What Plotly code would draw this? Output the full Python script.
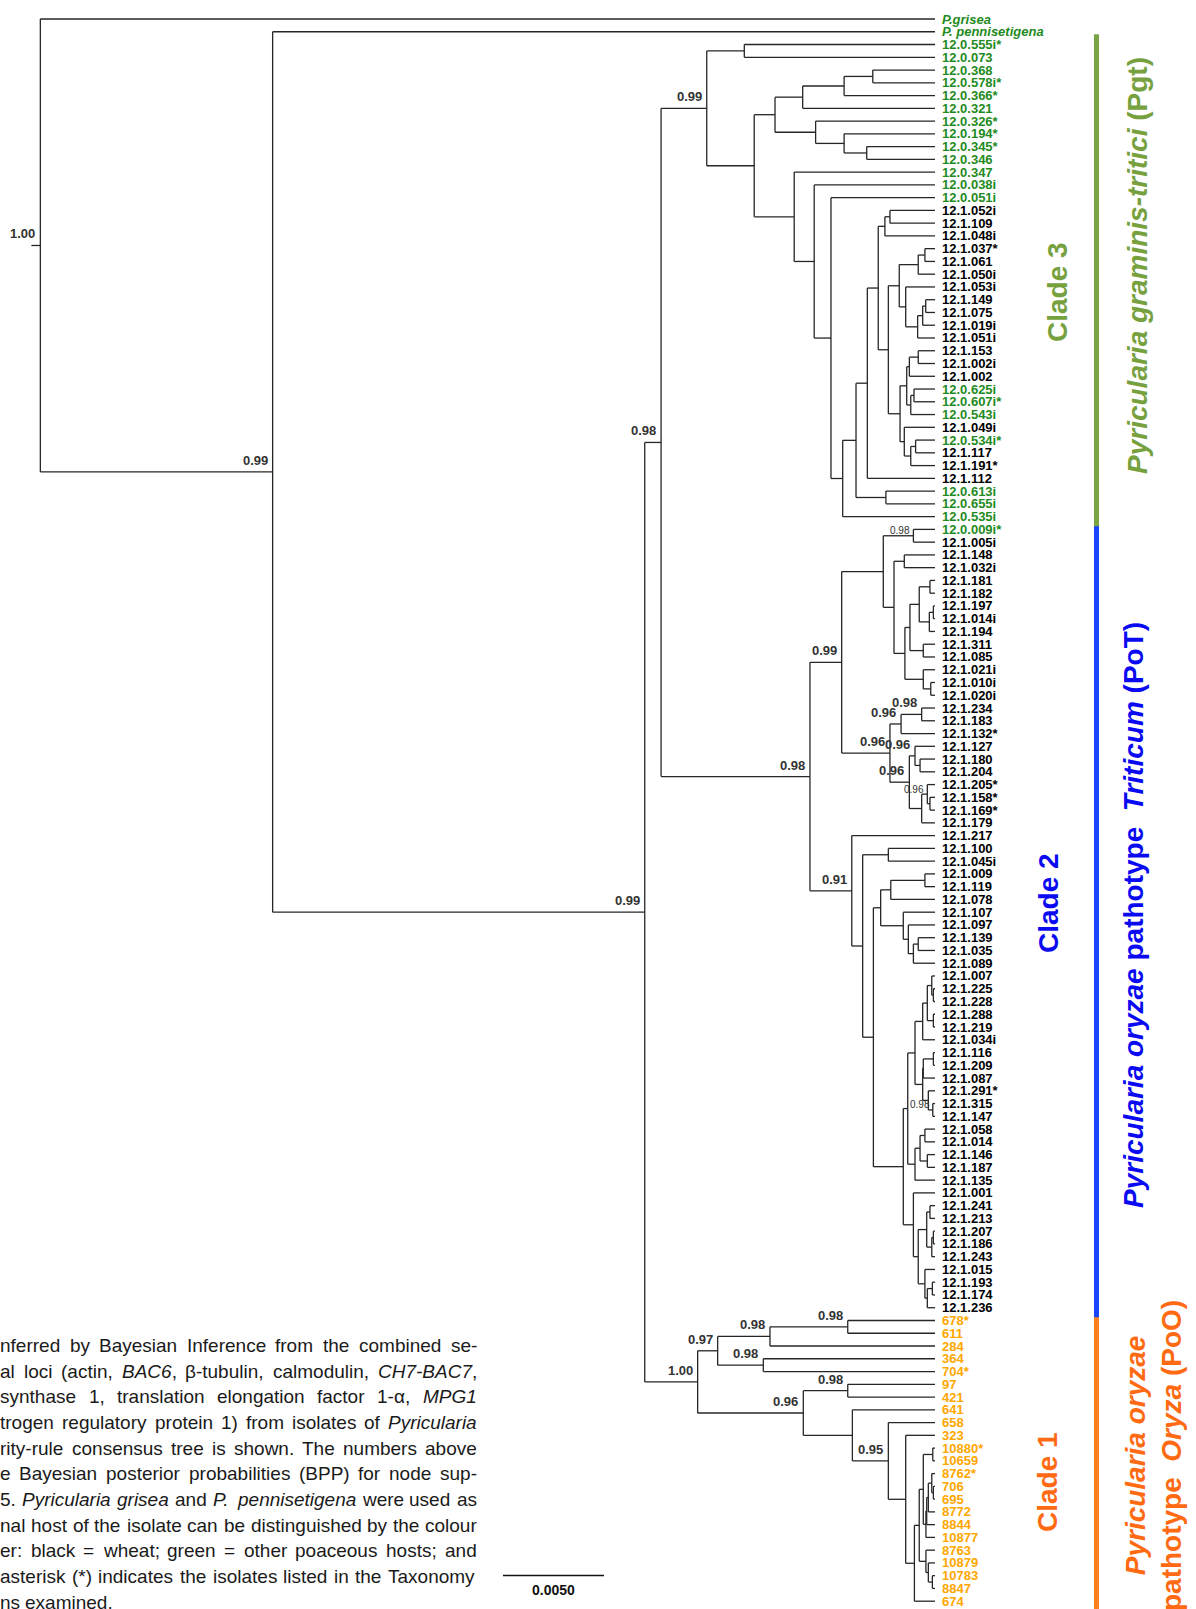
import re
import plotly.graph_objects as go

# ---------------------------------------------------------------------------
# Bayesian consensus tree. Internal nodes carry their height (substitutions
# per site, measured back from the tips) and, in brackets, the posterior
# probability where it is printed on the tree.
# ---------------------------------------------------------------------------
PGT_A = ("((((12.0.368,12.0.578i*)0.00308,12.0.366*)0.00450,12.0.321)0.00655,"
         "(12.0.326*,(12.0.194*,(12.0.345*,12.0.346)0.00338)0.00450)0.00591)0.00792")
PGT_B1 = "((12.1.052i,12.1.109)0.00223,12.1.048i)0.00248"
PGT_B2 = ("(((12.1.037*,12.1.061)0.00050,12.1.050i)0.00083,"
          "(12.1.053i,(((12.1.149,12.1.075)0.00046,12.1.019i)0.00061,12.1.051i)0.00086)0.00145)0.00177")
PGT_B3 = ("((((12.1.153,12.1.002i)0.00083,12.1.002)0.00127,((12.0.625i,12.0.607i*)0.00104,12.0.543i)0.00120)0.00140,"
          "(12.1.049i,((12.0.534i*,12.1.117)0.00096,12.1.191*)0.00120)0.00152)0.00173")
CLADE3 = ("((12.0.555i*,12.0.073)0.00944,(" + PGT_A + ",(12.0.347,(12.0.038i,(12.0.051i,(((("
          + PGT_B1 + ",(" + PGT_B2 + "," + PGT_B3 + ")0.00231)0.00281,12.1.112)0.00335,"
          "(12.0.613i,12.0.655i)0.00243)0.00391,12.0.535i)0.00457)0.00515)0.00598)0.00697)0.00895)0.01130[0.99]")

POT_A = ("((12.0.009i*,12.1.005i)0.00107[0.98],((12.1.148,12.1.032i)0.00152,"
         "((((12.1.181,12.1.182)0.00025,((12.1.197,12.1.014i)0.00008,12.1.194)0.00028)0.00078,"
         "(12.1.311,12.1.085)0.00058)0.00124,(12.1.021i,(12.1.010i,12.1.020i)0.00021)0.00058)0.00149)0.00203)0.00256")
POT_B = ("(((12.1.234,12.1.183)0.00066[0.98],12.1.132*)0.00168[0.96],"
         "((12.1.127,(12.1.180,12.1.204)0.00074)0.00099[0.96],"
         "((12.1.205*,(12.1.158*,12.1.169*)0.00025)0.00038[0.96],12.1.179)0.00066)0.00127[0.96])0.00223[0.96]")
POT_C = ("(((12.1.009,12.1.119)0.00050,12.1.078)0.00219,"
         "(12.1.107,(12.1.097,((12.1.139,12.1.035)0.00083,12.1.089)0.00107)0.00132)0.00157)0.00269")
POT_D = ("(((((12.1.007,(12.1.225,12.1.228)0.00008)0.00016,(12.1.288,12.1.219)0.00008)0.00038,12.1.034i)0.00061,"
         "(((12.1.116,12.1.209)0.00008,12.1.087)0.00058,(12.1.291*,(12.1.315,12.1.147)0.00011[0.98])0.00033)0.00061)0.00099,"
         "(((12.1.058,12.1.014)0.00050,(12.1.146,12.1.187)0.00038)0.00074,12.1.135)0.00099)0.00135")
POT_E = ("(12.1.001,(((12.1.241,12.1.213)0.00025,((12.1.207,12.1.186)0.00008,12.1.243)0.00016)0.00041,"
         "(12.1.015,((12.1.193,12.1.174)0.00013,12.1.236)0.00038)0.00050)0.00083)0.00107")
CLADE2 = ("((" + POT_A + "," + POT_B + ")0.00462[0.99],(12.1.217,((12.1.100,12.1.045i)0.00231,("
          + POT_C + ",(" + POT_D + "," + POT_E + ")0.00157)0.00305)0.00358)0.00412[0.91])0.00619[0.98]")

CLADE1 = ("((((678*,611)0.00432[0.98],284)0.00817[0.98],(364,704*)0.00850[0.98])0.01076[0.97],"
          "((97,421)0.00432[0.98],(641,(658,(323,((((10880*,10659)0.00011,"
          "((((8762*,(706,695)0.00008)0.00016,8772)0.00033,8844)0.00041,10877)0.00045)0.00058,"
          "(8763,(10879,(10783,8847)0.00013)0.00033)0.00045)0.00078,674)0.00102)0.00145)0.00231[0.95])0.00409)0.00652[0.96])0.01175[1.00]")

TREE = ("(P.grisea,(P. pennisetigena,((" + CLADE3 + "," + CLADE2 + ")0.01356[0.98]," + CLADE1
        + ")0.01437[0.99])0.03279[0.99])0.04429[1.00]")

SCALE_BAR = 0.005

# clade name, first leaf, last leaf, lineage
CLADES = [
    ("Clade 3", "12.0.555i*", "12.0.535i",
     "<i>Pyricularia graminis-tritici</i> (Pgt)"),
    ("Clade 2", "12.0.009i*", "12.1.236",
     "<i>Pyricularia oryzae</i> pathotype  <i>Triticum</i> (PoT)"),
    ("Clade 1", "678*", "674",
     "<i>Pyricularia oryzae</i><br>pathotype  <i>Oryza</i> (PoO)"),
]

CAPTION_LINES = [
    "nferred by Bayesian Inference from the combined se-",
    "al loci (actin, <i>BAC6</i>, β-tubulin, calmodulin, <i>CH7-BAC7</i>,",
    "synthase 1, translation elongation factor 1-α, <i>MPG1</i>",
    "trogen regulatory protein 1) from isolates of <i>Pyricularia</i>",
    "rity-rule consensus tree is shown. The numbers above",
    "e Bayesian posterior probabilities (BPP) for node sup-",
    "5. <i>Pyricularia grisea</i> and <i>P. pennisetigena</i> were used as",
    "nal host of the isolate can be distinguished by the colour",
    "er: black = wheat; green = other poaceous hosts; and",
    "asterisk (*) indicates the isolates listed in the Taxonomy",
    "ns examined.",
]

# ---------------------------------------------------------------------------
# page geometry and styling
# ---------------------------------------------------------------------------
W, H = 1196, 1609
TIP_PX = 935.0            # where every tip ends
PX_PER_UNIT = 20200.0     # horizontal scale
LEAF0_PX, LEAFN_PX = 19.0, 1601.2
FONT = "Liberation Sans, Arial, sans-serif"
LINE_COLOUR = "#262626"
SUPPORT_COLOUR = "#333333"
OTHER_HOST = "#1f8b22"
RICE_HOST = "#ffa700"
WHEAT_HOST = "#000000"
CLADE_STYLE = {
    "Clade 3": dict(text="#76a13e", bar="#7aa344", label_xy=(1057, 292), line_xy=(1137, 266)),
    "Clade 2": dict(text="#0a0af2", bar="#1a45ff", label_xy=(1049, 903), line_xy=(1133, 915)),
    "Clade 1": dict(text="#ff6a12", bar="#ff7f1e", label_xy=(1047, 1482), line_xy=(1153, 1456)),
}
BAR_X_PX = 1096.5
SMALL_SUPPORT = {("12.0.009i*", "12.1.005i"), ("12.1.205*", "12.1.169*"), ("12.1.315", "12.1.147")}

CAPTION_SIZE = 19
CAPTION_RIGHT_PX = 477
CAPTION_TOP_PX, CAPTION_PITCH_PX = 1345.7, 25.63

# advance widths of the caption font (1/1000 em), used to justify the lines
_ADV = {ch: 556 for ch in "0123456789"}
_ADV.update({" ": 278, "!": 278, "(": 333, ")": 333, "*": 389, ",": 278, "-": 333, ".": 278,
             "/": 278, ":": 278, ";": 278, "=": 584, "β": 575, "α": 578})
_ADV.update(dict(zip("ABCDEFGHIJKLMNOPQRSTUVWXYZ",
                     [667, 667, 722, 722, 667, 611, 778, 722, 278, 500, 667, 556, 833, 722, 778, 667,
                      778, 722, 667, 611, 722, 667, 944, 667, 667, 611])))
_ADV.update(dict(zip("abcdefghijklmnopqrstuvwxyz",
                     [556, 556, 500, 556, 556, 278, 556, 556, 222, 222, 500, 222, 833, 556, 556, 556,
                      556, 333, 500, 278, 556, 500, 722, 500, 500, 500])))


def text_px(s, size):
    return sum(_ADV.get(ch, 556) for ch in s) * size / 1000.0


def caption_words(line):
    """Split a line into words, each a list of (text, italic) runs."""
    words, italic = [[]], False
    for part in re.split(r"(<i>|</i>)", line):
        if part == "<i>":
            italic = True
        elif part == "</i>":
            italic = False
        elif part:
            for k, piece in enumerate(part.split(" ")):
                if k > 0:
                    words.append([])
                if piece:
                    words[-1].append((piece, italic))
    return [w for w in words if w]


def parse_newick(text):
    pos = 0

    def node():
        nonlocal pos
        if text[pos] == "(":
            pos += 1
            kids = [node()]
            while text[pos] == ",":
                pos += 1
                kids.append(node())
            assert text[pos] == ")"
            pos += 1
            m = re.match(r"([0-9.]+)(?:\[([0-9.]+)\])?", text[pos:])
            pos += m.end()
            return {"children": kids, "height": float(m.group(1)), "support": m.group(2)}
        m = re.match(r"[^,()]+", text[pos:])
        pos += m.end()
        return {"name": m.group(0), "height": 0.0}

    tree = node()
    assert pos == len(text), "unbalanced tree string"
    return tree


root = parse_newick(TREE)
leaves = []


def place(node):
    node["x"] = -node["height"]
    if "children" not in node:
        node["y"] = len(leaves)
        node["first"] = node["last"] = node["name"]
        leaves.append(node)
        return
    for c in node["children"]:
        place(c)
    kids = node["children"]
    node["y"] = (kids[0]["y"] + kids[-1]["y"]) / 2
    node["first"], node["last"] = kids[0]["first"], kids[-1]["last"]


place(root)
leaf_index = {lf["name"]: lf["y"] for lf in leaves}

xs, ys, internal = [], [], []


def collect(node):
    if "children" not in node:
        return
    internal.append(node)
    kids = node["children"]
    xs.extend([node["x"], node["x"], None])
    ys.extend([kids[0]["y"], kids[-1]["y"], None])
    for c in kids:
        xs.extend([node["x"], c["x"], None])
        ys.extend([c["y"], c["y"], None])
        collect(c)


collect(root)
# short stub under the root
xs.extend([root["x"] - 9 / PX_PER_UNIT, root["x"], None])
ys.extend([root["y"], root["y"], None])

pitch = (LEAFN_PX - LEAF0_PX) / (len(leaves) - 1)
x_range = [-TIP_PX / PX_PER_UNIT, (W - TIP_PX) / PX_PER_UNIT]
y_range = [(H - LEAF0_PX) / pitch, -LEAF0_PX / pitch]

fig = go.Figure()
fig.add_trace(go.Scatter(x=xs, y=ys, mode="lines", line=dict(color=LINE_COLOUR, width=1.3),
                         hoverinfo="skip", showlegend=False))

ann = []


def host_colour(name):
    code = name.rstrip("*")
    if name.startswith("P"):
        return OTHER_HOST
    if "." not in code:
        return RICE_HOST
    if code.startswith("12.1"):
        return WHEAT_HOST
    return OTHER_HOST


for lf in leaves:
    label = lf["name"]
    if label.startswith("P"):
        label = "<i>" + label + "</i>"
    ann.append(dict(x=lf["x"], y=lf["y"], xref="x", yref="y", text=label, showarrow=False,
                    xanchor="left", yanchor="middle", xshift=5,
                    font=dict(family=FONT, size=13, weight="bold", color=host_colour(lf["name"]))))

for nd in internal:
    if not nd["support"]:
        continue
    if (nd["first"], nd["last"]) in SMALL_SUPPORT:
        ann.append(dict(x=nd["x"], y=nd["y"], xref="x", yref="y", text=nd["support"], showarrow=False,
                        xanchor="right", yanchor="middle", xshift=-1, yshift=5,
                        font=dict(family=FONT, size=10, color=SUPPORT_COLOUR)))
    else:
        ann.append(dict(x=nd["x"], y=nd["y"], xref="x", yref="y", text=nd["support"], showarrow=False,
                        xanchor="right", yanchor="bottom", xshift=-3, yshift=2,
                        font=dict(family=FONT, size=13, weight="bold", color=SUPPORT_COLOUR)))

shapes = []
# coloured clade bars; drawn bottom-up so each upper bar overlaps the join below it
for name, first, last, lineage in reversed(CLADES):
    st = CLADE_STYLE[name]
    shapes.append(dict(type="line", xref="paper", yref="y",
                       x0=BAR_X_PX / W, x1=BAR_X_PX / W,
                       y0=leaf_index[first] - 0.8, y1=leaf_index[last] + 0.75,
                       line=dict(color=st["bar"], width=5)))
for name, first, last, lineage in CLADES:
    st = CLADE_STYLE[name]
    lx, ly = st["label_xy"]
    ann.append(dict(x=lx / W, y=1 - ly / H, xref="paper", yref="paper", text=name, showarrow=False,
                    textangle=-90, xanchor="center", yanchor="middle",
                    font=dict(family=FONT, size=28, weight="bold", color=st["text"])))
    sx, sy = st["line_xy"]
    ann.append(dict(x=sx / W, y=1 - sy / H, xref="paper", yref="paper", text=lineage, showarrow=False,
                    textangle=-90, xanchor="center", yanchor="middle", align="center",
                    font=dict(family=FONT, size=28, weight="bold", color=st["text"])))

# scale bar
bar_x0 = (503 - TIP_PX) / PX_PER_UNIT
shapes.append(dict(type="line", xref="x", yref="paper", x0=bar_x0, x1=bar_x0 + SCALE_BAR,
                   y0=1 - 1575.5 / H, y1=1 - 1575.5 / H, line=dict(color="#111111", width=1.4)))
ann.append(dict(x=bar_x0 + SCALE_BAR / 2, y=1 - 1590 / H, xref="x", yref="paper",
                text=f"{SCALE_BAR:.4f}", showarrow=False, xanchor="center", yanchor="middle",
                font=dict(family=FONT, size=14, weight="bold", color="#111111")))

# figure caption running in from the left edge, justified word by word
cap_font = dict(family=FONT, size=CAPTION_SIZE, color="#1a1a1a")
for i, line in enumerate(CAPTION_LINES):
    y = 1 - (CAPTION_TOP_PX + i * CAPTION_PITCH_PX) / H
    words = caption_words(line)
    widths = [sum(text_px(t, CAPTION_SIZE) for t, _ in w) for w in words]
    if i == len(CAPTION_LINES) - 1 or len(words) < 2:
        gap = text_px(" ", CAPTION_SIZE)
    else:
        gap = (CAPTION_RIGHT_PX - sum(widths)) / (len(words) - 1)
    x = 0.0
    for w, wpx in zip(words, widths):
        html = "".join(f"<i>{t}</i>" if it else t for t, it in w)
        ann.append(dict(x=x / W, y=y, xref="paper", yref="paper", text=html, showarrow=False,
                        xanchor="left", yanchor="middle", borderpad=0, borderwidth=0, font=cap_font))
        x += wpx + gap

fig.update_layout(
    width=W, height=H, margin=dict(l=0, r=0, t=0, b=0),
    paper_bgcolor="white", plot_bgcolor="white",
    xaxis=dict(range=x_range, visible=False, fixedrange=True),
    yaxis=dict(range=y_range, visible=False, fixedrange=True),
    annotations=ann, shapes=shapes, showlegend=False,
)

fig.write_html("out.html", config={"displayModeBar": False})
